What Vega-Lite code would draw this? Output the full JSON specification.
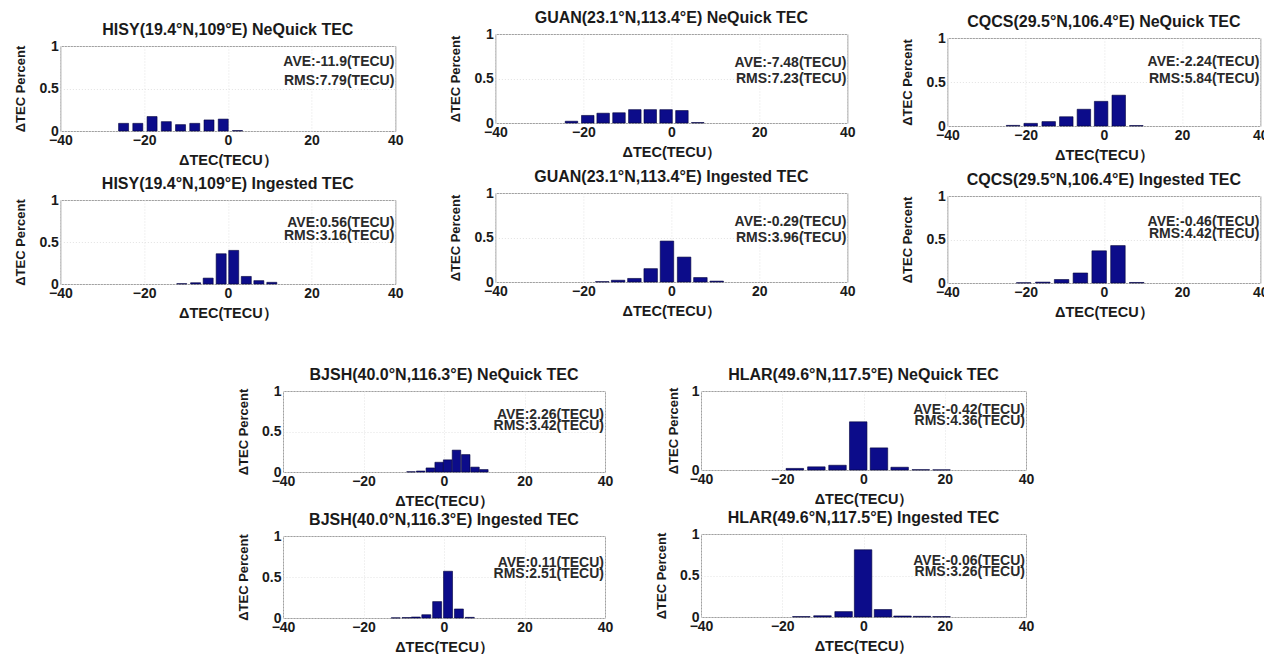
{
  "$schema": "https://vega.github.io/schema/vega-lite/v6.json",
  "padding": {"left": 14, "top": 8, "right": 0, "bottom": 0},
  "background": "white",
  "datasets": {
    "bars": [
      {"p": "HISY_N", "dtec": -24.9, "pct": 0.09}, {"p": "HISY_N", "dtec": -21.5, "pct": 0.09}, {"p": "HISY_N", "dtec": -18.1, "pct": 0.17}, {"p": "HISY_N", "dtec": -14.7, "pct": 0.11}, {"p": "HISY_N", "dtec": -11.3, "pct": 0.075}, {"p": "HISY_N", "dtec": -7.9, "pct": 0.09}, {"p": "HISY_N", "dtec": -4.5, "pct": 0.13}, {"p": "HISY_N", "dtec": -1.1, "pct": 0.14}, {"p": "HISY_N", "dtec": 2.3, "pct": 0.005},
      {"p": "HISY_I", "dtec": -11.0, "pct": 0.004}, {"p": "HISY_I", "dtec": -7.7, "pct": 0.015}, {"p": "HISY_I", "dtec": -4.7, "pct": 0.07}, {"p": "HISY_I", "dtec": -1.6, "pct": 0.36}, {"p": "HISY_I", "dtec": 1.4, "pct": 0.4}, {"p": "HISY_I", "dtec": 4.4, "pct": 0.09}, {"p": "HISY_I", "dtec": 7.4, "pct": 0.04}, {"p": "HISY_I", "dtec": 10.5, "pct": 0.02},
      {"p": "GUAN_N", "dtec": -22.7, "pct": 0.02}, {"p": "GUAN_N", "dtec": -19.0, "pct": 0.085}, {"p": "GUAN_N", "dtec": -15.5, "pct": 0.11}, {"p": "GUAN_N", "dtec": -11.9, "pct": 0.115}, {"p": "GUAN_N", "dtec": -8.3, "pct": 0.15}, {"p": "GUAN_N", "dtec": -4.8, "pct": 0.15}, {"p": "GUAN_N", "dtec": -1.2, "pct": 0.15}, {"p": "GUAN_N", "dtec": 2.4, "pct": 0.14}, {"p": "GUAN_N", "dtec": 6.0, "pct": 0.005},
      {"p": "GUAN_I", "dtec": -15.7, "pct": 0.004}, {"p": "GUAN_I", "dtec": -12.1, "pct": 0.02}, {"p": "GUAN_I", "dtec": -8.4, "pct": 0.04}, {"p": "GUAN_I", "dtec": -4.7, "pct": 0.15}, {"p": "GUAN_I", "dtec": -1.0, "pct": 0.46}, {"p": "GUAN_I", "dtec": 2.9, "pct": 0.28}, {"p": "GUAN_I", "dtec": 6.6, "pct": 0.05}, {"p": "GUAN_I", "dtec": 10.3, "pct": 0.01},
      {"p": "CQCS_N", "dtec": -23.2, "pct": 0.007}, {"p": "CQCS_N", "dtec": -18.7, "pct": 0.03}, {"p": "CQCS_N", "dtec": -14.1, "pct": 0.05}, {"p": "CQCS_N", "dtec": -9.6, "pct": 0.105}, {"p": "CQCS_N", "dtec": -5.1, "pct": 0.19}, {"p": "CQCS_N", "dtec": -0.7, "pct": 0.28}, {"p": "CQCS_N", "dtec": 3.8, "pct": 0.35}, {"p": "CQCS_N", "dtec": 8.3, "pct": 0.005},
      {"p": "CQCS_I", "dtec": -20.5, "pct": 0.003}, {"p": "CQCS_I", "dtec": -15.6, "pct": 0.01}, {"p": "CQCS_I", "dtec": -10.8, "pct": 0.04}, {"p": "CQCS_I", "dtec": -6.0, "pct": 0.115}, {"p": "CQCS_I", "dtec": -1.2, "pct": 0.37}, {"p": "CQCS_I", "dtec": 3.6, "pct": 0.43}, {"p": "CQCS_I", "dtec": 8.4, "pct": 0.006},
      {"p": "BJSH_N", "dtec": -8.2, "pct": 0.003}, {"p": "BJSH_N", "dtec": -5.8, "pct": 0.012}, {"p": "BJSH_N", "dtec": -3.4, "pct": 0.05}, {"p": "BJSH_N", "dtec": -1.2, "pct": 0.12}, {"p": "BJSH_N", "dtec": 0.9, "pct": 0.15}, {"p": "BJSH_N", "dtec": 3.1, "pct": 0.27}, {"p": "BJSH_N", "dtec": 5.4, "pct": 0.215}, {"p": "BJSH_N", "dtec": 7.7, "pct": 0.06}, {"p": "BJSH_N", "dtec": 9.9, "pct": 0.03},
      {"p": "BJSH_I", "dtec": -12.0, "pct": 0.002}, {"p": "BJSH_I", "dtec": -9.3, "pct": 0.005}, {"p": "BJSH_I", "dtec": -7.0, "pct": 0.012}, {"p": "BJSH_I", "dtec": -4.4, "pct": 0.04}, {"p": "BJSH_I", "dtec": -1.7, "pct": 0.2}, {"p": "BJSH_I", "dtec": 1.0, "pct": 0.57}, {"p": "BJSH_I", "dtec": 3.7, "pct": 0.11}, {"p": "BJSH_I", "dtec": 6.4, "pct": 0.008},
      {"p": "HLAR_N", "dtec": -16.9, "pct": 0.02}, {"p": "HLAR_N", "dtec": -11.6, "pct": 0.04}, {"p": "HLAR_N", "dtec": -6.4, "pct": 0.06}, {"p": "HLAR_N", "dtec": -1.3, "pct": 0.61}, {"p": "HLAR_N", "dtec": 3.8, "pct": 0.28}, {"p": "HLAR_N", "dtec": 8.9, "pct": 0.035}, {"p": "HLAR_N", "dtec": 14.1, "pct": 0.004}, {"p": "HLAR_N", "dtec": 19.2, "pct": 0.002},
      {"p": "HLAR_I", "dtec": -15.3, "pct": 0.005}, {"p": "HLAR_I", "dtec": -10.1, "pct": 0.015}, {"p": "HLAR_I", "dtec": -4.9, "pct": 0.065}, {"p": "HLAR_I", "dtec": -0.1, "pct": 0.81}, {"p": "HLAR_I", "dtec": 4.8, "pct": 0.09}, {"p": "HLAR_I", "dtec": 9.6, "pct": 0.012}, {"p": "HLAR_I", "dtec": 14.4, "pct": 0.008}, {"p": "HLAR_I", "dtec": 19.2, "pct": 0.005}
    ],
    "stats": [
      {"p": "HISY_N", "ave": "AVE:-11.9(TECU)", "rms": "RMS:7.79(TECU)"},
      {"p": "HISY_I", "ave": "AVE:0.56(TECU)", "rms": "RMS:3.16(TECU)"},
      {"p": "GUAN_N", "ave": "AVE:-7.48(TECU)", "rms": "RMS:7.23(TECU)"},
      {"p": "GUAN_I", "ave": "AVE:-0.29(TECU)", "rms": "RMS:3.96(TECU)"},
      {"p": "CQCS_N", "ave": "AVE:-2.24(TECU)", "rms": "RMS:5.84(TECU)"},
      {"p": "CQCS_I", "ave": "AVE:-0.46(TECU)", "rms": "RMS:4.42(TECU)"},
      {"p": "BJSH_N", "ave": "AVE:2.26(TECU)", "rms": "RMS:3.42(TECU)"},
      {"p": "BJSH_I", "ave": "AVE:0.11(TECU)", "rms": "RMS:2.51(TECU)"},
      {"p": "HLAR_N", "ave": "AVE:-0.42(TECU)", "rms": "RMS:4.36(TECU)"},
      {"p": "HLAR_I", "ave": "AVE:-0.06(TECU)", "rms": "RMS:3.26(TECU)"}
    ]
  },
  "vconcat": [
    {
      "hconcat": [
        {
          "vconcat": [
            {"width": 1, "height": 13, "data": {"values": []}, "mark": "point", "view": {"stroke": null}},
            {
              "vconcat": [
                {
                  "width": 335, "height": 85, "title": "HISY(19.4°N,109°E) NeQuick TEC",
                  "layer": [
                    {"data": {"name": "bars"}, "transform": [{"filter": "datum.p === 'HISY_N'"}], "mark": {"type": "bar", "width": 10},
                     "encoding": {"x": {"field": "dtec", "type": "quantitative", "scale": {"domain": [-40, 40], "padding": 0, "nice": false}, "axis": {"values": [-40, -20, 0, 20, 40], "title": "ΔTEC(TECU）"}},
                                  "y": {"field": "pct", "type": "quantitative", "scale": {"domain": [0, 1], "nice": false}, "axis": {"values": [0, 0.5, 1], "format": "~g", "title": "ΔTEC Percent"}}}},
                    {"data": {"name": "stats"}, "transform": [{"filter": "datum.p === 'HISY_N'"}], "mark": {"type": "text", "align": "right", "baseline": "middle", "dx": -1},
                     "encoding": {"x": {"datum": 40}, "y": {"datum": 0.81}, "text": {"field": "ave"}}},
                    {"data": {"name": "stats"}, "transform": [{"filter": "datum.p === 'HISY_N'"}], "mark": {"type": "text", "align": "right", "baseline": "middle", "dx": -1},
                     "encoding": {"x": {"datum": 40}, "y": {"datum": 0.59}, "text": {"field": "rms"}}}
                  ]
                },
                {
                  "width": 335, "height": 84, "title": "HISY(19.4°N,109°E) Ingested TEC",
                  "layer": [
                    {"data": {"name": "bars"}, "transform": [{"filter": "datum.p === 'HISY_I'"}], "mark": {"type": "bar", "width": 10},
                     "encoding": {"x": {"field": "dtec", "type": "quantitative", "scale": {"domain": [-40, 40], "padding": 0, "nice": false}, "axis": {"values": [-40, -20, 0, 20, 40], "title": "ΔTEC(TECU）"}},
                                  "y": {"field": "pct", "type": "quantitative", "scale": {"domain": [0, 1], "nice": false}, "axis": {"values": [0, 0.5, 1], "format": "~g", "title": "ΔTEC Percent"}}}},
                    {"data": {"name": "stats"}, "transform": [{"filter": "datum.p === 'HISY_I'"}], "mark": {"type": "text", "align": "right", "baseline": "middle", "dx": -1},
                     "encoding": {"x": {"datum": 40}, "y": {"datum": 0.73}, "text": {"field": "ave"}}},
                    {"data": {"name": "stats"}, "transform": [{"filter": "datum.p === 'HISY_I'"}], "mark": {"type": "text", "align": "right", "baseline": "middle", "dx": -1},
                     "encoding": {"x": {"datum": 40}, "y": {"datum": 0.57}, "text": {"field": "rms"}}}
                  ]
                }
              ],
              "spacing": 69, "bounds": "flush"
            }
          ],
          "spacing": 0
        },
        {
          "vconcat": [
            {"width": 1, "height": 1, "data": {"values": []}, "mark": "point", "view": {"stroke": null}},
            {
              "vconcat": [
                {
                  "width": 352, "height": 89, "title": "GUAN(23.1°N,113.4°E) NeQuick TEC",
                  "layer": [
                    {"data": {"name": "bars"}, "transform": [{"filter": "datum.p === 'GUAN_N'"}], "mark": {"type": "bar", "width": 12.5},
                     "encoding": {"x": {"field": "dtec", "type": "quantitative", "scale": {"domain": [-40, 40], "padding": 0, "nice": false}, "axis": {"values": [-40, -20, 0, 20, 40], "title": "ΔTEC(TECU）"}},
                                  "y": {"field": "pct", "type": "quantitative", "scale": {"domain": [0, 1], "nice": false}, "axis": {"values": [0, 0.5, 1], "format": "~g", "title": "ΔTEC Percent"}}}},
                    {"data": {"name": "stats"}, "transform": [{"filter": "datum.p === 'GUAN_N'"}], "mark": {"type": "text", "align": "right", "baseline": "middle", "dx": -1},
                     "encoding": {"x": {"datum": 40}, "y": {"datum": 0.67}, "text": {"field": "ave"}}},
                    {"data": {"name": "stats"}, "transform": [{"filter": "datum.p === 'GUAN_N'"}], "mark": {"type": "text", "align": "right", "baseline": "middle", "dx": -1},
                     "encoding": {"x": {"datum": 40}, "y": {"datum": 0.49}, "text": {"field": "rms"}}}
                  ]
                },
                {
                  "width": 352, "height": 89, "title": "GUAN(23.1°N,113.4°E) Ingested TEC",
                  "layer": [
                    {"data": {"name": "bars"}, "transform": [{"filter": "datum.p === 'GUAN_I'"}], "mark": {"type": "bar", "width": 13.5},
                     "encoding": {"x": {"field": "dtec", "type": "quantitative", "scale": {"domain": [-40, 40], "padding": 0, "nice": false}, "axis": {"values": [-40, -20, 0, 20, 40], "title": "ΔTEC(TECU）"}},
                                  "y": {"field": "pct", "type": "quantitative", "scale": {"domain": [0, 1], "nice": false}, "axis": {"values": [0, 0.5, 1], "format": "~g", "title": "ΔTEC Percent"}}}},
                    {"data": {"name": "stats"}, "transform": [{"filter": "datum.p === 'GUAN_I'"}], "mark": {"type": "text", "align": "right", "baseline": "middle", "dx": -1},
                     "encoding": {"x": {"datum": 40}, "y": {"datum": 0.67}, "text": {"field": "ave"}}},
                    {"data": {"name": "stats"}, "transform": [{"filter": "datum.p === 'GUAN_I'"}], "mark": {"type": "text", "align": "right", "baseline": "middle", "dx": -1},
                     "encoding": {"x": {"datum": 40}, "y": {"datum": 0.49}, "text": {"field": "rms"}}}
                  ]
                }
              ],
              "spacing": 70, "bounds": "flush"
            }
          ],
          "spacing": 0
        },
        {
          "vconcat": [
            {"width": 1, "height": 5, "data": {"values": []}, "mark": "point", "view": {"stroke": null}},
            {
              "vconcat": [
                {
                  "width": 313, "height": 88, "title": "CQCS(29.5°N,106.4°E) NeQuick TEC",
                  "layer": [
                    {"data": {"name": "bars"}, "transform": [{"filter": "datum.p === 'CQCS_N'"}], "mark": {"type": "bar", "width": 13.5},
                     "encoding": {"x": {"field": "dtec", "type": "quantitative", "scale": {"domain": [-40, 40], "padding": 0, "nice": false}, "axis": {"values": [-40, -20, 0, 20, 40], "title": "ΔTEC(TECU）"}},
                                  "y": {"field": "pct", "type": "quantitative", "scale": {"domain": [0, 1], "nice": false}, "axis": {"values": [0, 0.5, 1], "format": "~g", "title": "ΔTEC Percent"}}}},
                    {"data": {"name": "stats"}, "transform": [{"filter": "datum.p === 'CQCS_N'"}], "mark": {"type": "text", "align": "right", "baseline": "middle", "dx": -1},
                     "encoding": {"x": {"datum": 40}, "y": {"datum": 0.73}, "text": {"field": "ave"}}},
                    {"data": {"name": "stats"}, "transform": [{"filter": "datum.p === 'CQCS_N'"}], "mark": {"type": "text", "align": "right", "baseline": "middle", "dx": -1},
                     "encoding": {"x": {"datum": 40}, "y": {"datum": 0.53}, "text": {"field": "rms"}}}
                  ]
                },
                {
                  "width": 313, "height": 87, "title": "CQCS(29.5°N,106.4°E) Ingested TEC",
                  "layer": [
                    {"data": {"name": "bars"}, "transform": [{"filter": "datum.p === 'CQCS_I'"}], "mark": {"type": "bar", "width": 14.5},
                     "encoding": {"x": {"field": "dtec", "type": "quantitative", "scale": {"domain": [-40, 40], "padding": 0, "nice": false}, "axis": {"values": [-40, -20, 0, 20, 40], "title": "ΔTEC(TECU）"}},
                                  "y": {"field": "pct", "type": "quantitative", "scale": {"domain": [0, 1], "nice": false}, "axis": {"values": [0, 0.5, 1], "format": "~g", "title": "ΔTEC Percent"}}}},
                    {"data": {"name": "stats"}, "transform": [{"filter": "datum.p === 'CQCS_I'"}], "mark": {"type": "text", "align": "right", "baseline": "middle", "dx": -1},
                     "encoding": {"x": {"datum": 40}, "y": {"datum": 0.70}, "text": {"field": "ave"}}},
                    {"data": {"name": "stats"}, "transform": [{"filter": "datum.p === 'CQCS_I'"}], "mark": {"type": "text", "align": "right", "baseline": "middle", "dx": -1},
                     "encoding": {"x": {"datum": 40}, "y": {"datum": 0.56}, "text": {"field": "rms"}}}
                  ]
                }
              ],
              "spacing": 70, "bounds": "flush"
            }
          ],
          "spacing": 0
        }
      ],
      "spacing": 45
    },
    {
      "hconcat": [
        {
          "hconcat": [
            {
              "vconcat": [
                {
                  "width": 322, "height": 81, "title": "BJSH(40.0°N,116.3°E) NeQuick TEC",
                  "layer": [
                    {"data": {"name": "bars"}, "transform": [{"filter": "datum.p === 'BJSH_N'"}], "mark": {"type": "bar", "width": 8.5},
                     "encoding": {"x": {"field": "dtec", "type": "quantitative", "scale": {"domain": [-40, 40], "padding": 0, "nice": false}, "axis": {"values": [-40, -20, 0, 20, 40], "title": "ΔTEC(TECU）"}},
                                  "y": {"field": "pct", "type": "quantitative", "scale": {"domain": [0, 1], "nice": false}, "axis": {"values": [0, 0.5, 1], "format": "~g", "title": "ΔTEC Percent"}}}},
                    {"data": {"name": "stats"}, "transform": [{"filter": "datum.p === 'BJSH_N'"}], "mark": {"type": "text", "align": "right", "baseline": "middle", "dx": -1},
                     "encoding": {"x": {"datum": 40}, "y": {"datum": 0.70}, "text": {"field": "ave"}}},
                    {"data": {"name": "stats"}, "transform": [{"filter": "datum.p === 'BJSH_N'"}], "mark": {"type": "text", "align": "right", "baseline": "middle", "dx": -1},
                     "encoding": {"x": {"datum": 40}, "y": {"datum": 0.57}, "text": {"field": "rms"}}}
                  ]
                },
                {
                  "width": 322, "height": 82, "title": "BJSH(40.0°N,116.3°E) Ingested TEC",
                  "layer": [
                    {"data": {"name": "bars"}, "transform": [{"filter": "datum.p === 'BJSH_I'"}], "mark": {"type": "bar", "width": 9},
                     "encoding": {"x": {"field": "dtec", "type": "quantitative", "scale": {"domain": [-40, 40], "padding": 0, "nice": false}, "axis": {"values": [-40, -20, 0, 20, 40], "title": "ΔTEC(TECU）"}},
                                  "y": {"field": "pct", "type": "quantitative", "scale": {"domain": [0, 1], "nice": false}, "axis": {"values": [0, 0.5, 1], "format": "~g", "title": "ΔTEC Percent"}}}},
                    {"data": {"name": "stats"}, "transform": [{"filter": "datum.p === 'BJSH_I'"}], "mark": {"type": "text", "align": "right", "baseline": "middle", "dx": -1},
                     "encoding": {"x": {"datum": 40}, "y": {"datum": 0.67}, "text": {"field": "ave"}}},
                    {"data": {"name": "stats"}, "transform": [{"filter": "datum.p === 'BJSH_I'"}], "mark": {"type": "text", "align": "right", "baseline": "middle", "dx": -1},
                     "encoding": {"x": {"datum": 40}, "y": {"datum": 0.54}, "text": {"field": "rms"}}}
                  ]
                }
              ],
              "spacing": 64, "bounds": "flush"
            },
            {
              "vconcat": [
                {
                  "width": 325, "height": 79, "title": "HLAR(49.6°N,117.5°E) NeQuick TEC",
                  "layer": [
                    {"data": {"name": "bars"}, "transform": [{"filter": "datum.p === 'HLAR_N'"}], "mark": {"type": "bar", "width": 17.5},
                     "encoding": {"x": {"field": "dtec", "type": "quantitative", "scale": {"domain": [-40, 40], "padding": 0, "nice": false}, "axis": {"values": [-40, -20, 0, 20, 40], "title": "ΔTEC(TECU）"}},
                                  "y": {"field": "pct", "type": "quantitative", "scale": {"domain": [0, 1], "nice": false}, "axis": {"values": [0, 0.5, 1], "format": "~g", "title": "ΔTEC Percent"}}}},
                    {"data": {"name": "stats"}, "transform": [{"filter": "datum.p === 'HLAR_N'"}], "mark": {"type": "text", "align": "right", "baseline": "middle", "dx": -1},
                     "encoding": {"x": {"datum": 40}, "y": {"datum": 0.76}, "text": {"field": "ave"}}},
                    {"data": {"name": "stats"}, "transform": [{"filter": "datum.p === 'HLAR_N'"}], "mark": {"type": "text", "align": "right", "baseline": "middle", "dx": -1},
                     "encoding": {"x": {"datum": 40}, "y": {"datum": 0.62}, "text": {"field": "rms"}}}
                  ]
                },
                {
                  "width": 325, "height": 83, "title": "HLAR(49.6°N,117.5°E) Ingested TEC",
                  "layer": [
                    {"data": {"name": "bars"}, "transform": [{"filter": "datum.p === 'HLAR_I'"}], "mark": {"type": "bar", "width": 17.5},
                     "encoding": {"x": {"field": "dtec", "type": "quantitative", "scale": {"domain": [-40, 40], "padding": 0, "nice": false}, "axis": {"values": [-40, -20, 0, 20, 40], "title": "ΔTEC(TECU）"}},
                                  "y": {"field": "pct", "type": "quantitative", "scale": {"domain": [0, 1], "nice": false}, "axis": {"values": [0, 0.5, 1], "format": "~g", "title": "ΔTEC Percent"}}}},
                    {"data": {"name": "stats"}, "transform": [{"filter": "datum.p === 'HLAR_I'"}], "mark": {"type": "text", "align": "right", "baseline": "middle", "dx": -1},
                     "encoding": {"x": {"datum": 40}, "y": {"datum": 0.67}, "text": {"field": "ave"}}},
                    {"data": {"name": "stats"}, "transform": [{"filter": "datum.p === 'HLAR_I'"}], "mark": {"type": "text", "align": "right", "baseline": "middle", "dx": -1},
                     "encoding": {"x": {"datum": 40}, "y": {"datum": 0.54}, "text": {"field": "rms"}}}
                  ]
                }
              ],
              "spacing": 64, "bounds": "flush"
            }
          ],
          "spacing": 41
        },
        {"width": 11, "height": 1, "data": {"values": []}, "mark": "point", "view": {"stroke": null}}
      ],
      "spacing": 0
    }
  ],
  "spacing": 46,
  "center": true,
  "config": {
    "font": "Liberation Sans",
    "view": {"stroke": "#a0a0a0", "strokeWidth": 1},
    "axis": {
      "labelFont": "Liberation Sans", "labelFontWeight": "bold", "labelFontSize": 14, "labelColor": "#1a1a1a",
      "titleFont": "Liberation Sans", "titleFontWeight": "bold", "titleFontSize": 13, "titleColor": "#1a1a1a",
      "domain": false, "ticks": false, "grid": true, "gridColor": "#e2e2e2", "gridDash": [1, 2],
      "labelPadding": 2, "labelBound": false
    },
    "axisX": {"titlePadding": 6, "titleFontSize": 14.5, "labelFlush": false},
    "axisY": {"titlePadding": 11},
    "title": {"font": "Liberation Sans", "fontSize": 16, "fontWeight": "bold", "color": "#1a1a1a", "offset": 1},
    "bar": {"fill": "#0c0c8a", "stroke": "#00003a", "strokeWidth": 0.6},
    "text": {"font": "Liberation Sans", "fontSize": 14, "fontWeight": "bold", "fill": "#2a2a2a"}
  }
}
